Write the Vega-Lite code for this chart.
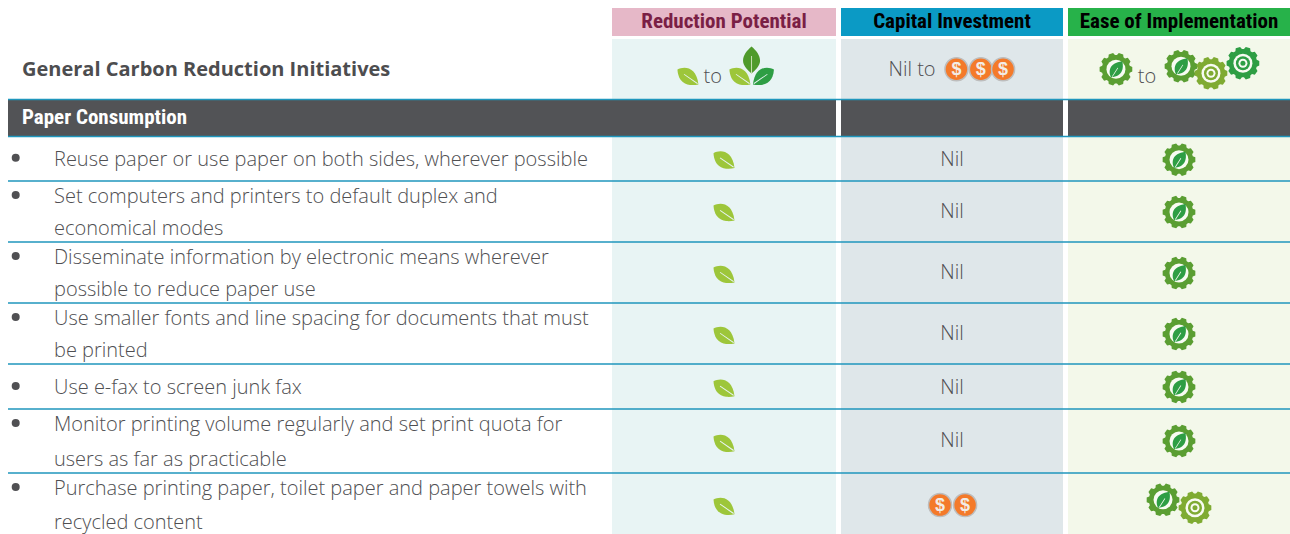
{
"$schema":"https://vega.github.io/schema/vega-lite/v6.json",
"width":1290,"height":534,"padding":0,"autosize":{"type":"none"},"background":"white",
"config":{"view":{"stroke":null}},
"datasets":{
"bands":[
{"kind":"bgA","x":4,"x2":5,"y":2,"y2":11},{"kind":"bgB","x":6,"x2":7,"y":2,"y2":11},{"kind":"bgC","x":8,"x2":9,"y":2,"y2":11},
{"kind":"hdrA","x":4,"x2":5,"y":0,"y2":1},{"kind":"hdrB","x":6,"x2":7,"y":0,"y2":1},{"kind":"hdrC","x":8,"x2":9,"y":0,"y2":1},
{"kind":"dark","x":0,"x2":5,"y":3,"y2":4},{"kind":"dark","x":6,"x2":7,"y":3,"y2":4},{"kind":"dark","x":8,"x2":9,"y":3,"y2":4}],
"lines":[{"x":0,"x2":9,"y":3},{"x":0,"x2":9,"y":4},{"x":0,"x2":9,"y":5},{"x":0,"x2":9,"y":6},{"x":0,"x2":9,"y":7},{"x":0,"x2":9,"y":8},{"x":0,"x2":9,"y":9},{"x":0,"x2":9,"y":10}],
"texts":[
{"style":"hdrA","text":"Reduction Potential","x":4.5,"y":0.5},
{"style":"hdrB","text":"Capital Investment","x":6.5,"y":0.5},
{"style":"hdrB","text":"Ease of Implementation","x":8.5,"y":0.5},
{"style":"title","text":"General Carbon Reduction Initiatives","x":2,"y":2.5},
{"style":"section","text":"Paper Consumption","x":2,"y":3.5},
{"style":"center","text":"to","x":4.45,"y":2.617},
{"style":"center","text":"Nil to","x":6.32,"y":2.5},
{"style":"center","text":"to","x":8.356,"y":2.617},
{"style":"body","text":"Reuse paper or use paper on both sides, wherever possible","x":3,"y":4.5},
{"style":"body","text":"Set computers and printers to default duplex and","x":3,"y":5.246},
{"style":"body","text":"economical modes","x":3,"y":5.77},
{"style":"body","text":"Disseminate information by electronic means wherever","x":3,"y":6.246},
{"style":"body","text":"possible to reduce paper use","x":3,"y":6.77},
{"style":"body","text":"Use smaller fonts and line spacing for documents that must","x":3,"y":7.246},
{"style":"body","text":"be printed","x":3,"y":7.77},
{"style":"body","text":"Use e-fax to screen junk fax","x":3,"y":8.511},
{"style":"body","text":"Monitor printing volume regularly and set print quota for","x":3,"y":9.234},
{"style":"body","text":"users as far as practicable","x":3,"y":9.78},
{"style":"body","text":"Purchase printing paper, toilet paper and paper towels with","x":3,"y":10.246},
{"style":"body","text":"recycled content","x":3,"y":10.803},
{"style":"center","text":"Nil","x":6.5,"y":4.5},
{"style":"center","text":"Nil","x":6.5,"y":5.49},
{"style":"center","text":"Nil","x":6.5,"y":6.49},
{"style":"center","text":"Nil","x":6.5,"y":7.49},
{"style":"center","text":"Nil","x":6.5,"y":8.51},
{"style":"center","text":"Nil","x":6.5,"y":9.48}],
"bullets":[{"x":1.1,"y":4.477},{"x":1.1,"y":5.23},{"x":1.1,"y":6.23},{"x":1.1,"y":7.23},{"x":1.1,"y":8.49},{"x":1.1,"y":9.22},{"x":1.1,"y":10.23}],
"leaves":[
{"x":4.339,"y":2.612},{"x":4.571,"y":2.612},
{"x":4.5,"y":4.52},{"x":4.5,"y":5.51},{"x":4.5,"y":6.525},{"x":4.5,"y":7.525},{"x":4.5,"y":8.53},{"x":4.5,"y":9.53},{"x":4.5,"y":10.54}],
"coins":[{"x":6.52,"y":2.5},{"x":6.63,"y":2.5},{"x":6.73,"y":2.5},{"x":6.446,"y":10.525},{"x":6.559,"y":10.525}],
"gears":[
{"kind":"gearLeaf","x":8.216,"y":2.5},{"kind":"gearLeaf","x":8.509,"y":2.45},{"kind":"gearLight","x":8.644,"y":2.567},{"kind":"gearDark","x":8.788,"y":2.4},
{"kind":"gearLeaf","x":8.5,"y":4.52},{"kind":"gearLeaf","x":8.5,"y":5.51},{"kind":"gearLeaf","x":8.5,"y":6.51},{"kind":"gearLeaf","x":8.5,"y":7.51},{"kind":"gearLeaf","x":8.5,"y":8.51},{"kind":"gearLeaf","x":8.5,"y":9.5},
{"kind":"gearLeaf","x":8.428,"y":10.44},{"kind":"gearLight","x":8.572,"y":10.57}]
},
"encoding":{
"x":{"field":"x","type":"quantitative","axis":null,"scale":{"domain":[0,1,2,3,4,5,6,7,8,9],"range":[8,15,22,54,612,836,841,1063,1068,1290],"nice":false,"zero":false}},
"y":{"field":"y","type":"quantitative","axis":null,"scale":{"domain":[0,1,2,3,4,5,6,7,8,9,10,11],"range":[8,36,39,99.5,136.5,181,242,303,364,409,473,534],"nice":false,"zero":false}}
},
"layer":[
{"data":{"name":"bands"},"mark":{"type":"rect"},"encoding":{"x2":{"field":"x2"},"y2":{"field":"y2"},
"color":{"field":"kind","type":"nominal","legend":null,"scale":{"domain":["bgA","bgB","bgC","hdrA","hdrB","hdrC","dark","gearLeaf","gearLight","gearDark"],"range":["#e8f4f4","#dfe7ea","#f3f8ea","#e6b8c8","#0b9ac5","#27b24a","#525356","#5a9e32","#7fab32","#2e9e44"]}}}},
{"data":{"name":"lines"},"mark":{"type":"rule","color":"#1f96bd","strokeWidth":1.5},"encoding":{"x2":{"field":"x2"}}},
{"data":{"name":"bullets"},"mark":{"type":"point","shape":"circle","filled":true,"opacity":1,"size":64,"color":"#505053"}},
{"data":{"name":"texts"},"transform":[{"filter":"datum.style==='body'"}],"mark":{"type":"text","align":"left","baseline":"middle","dy":1,"font":"Open Sans","fontWeight":300,"fontSize":20,"color":"#4f4f52"},"encoding":{"text":{"field":"text"}}},
{"data":{"name":"texts"},"transform":[{"filter":"datum.style==='center'"}],"mark":{"type":"text","align":"center","baseline":"middle","dy":1,"font":"Open Sans","fontWeight":300,"fontSize":20,"color":"#4f4f52"},"encoding":{"text":{"field":"text"}}},
{"data":{"name":"texts"},"transform":[{"filter":"datum.style==='title'"}],"mark":{"type":"text","align":"left","baseline":"middle","dy":1,"font":"Open Sans","fontWeight":700,"fontSize":20,"color":"#4d4d4f"},"encoding":{"text":{"field":"text"}}},
{"data":{"name":"texts"},"transform":[{"filter":"datum.style==='section'"}],"mark":{"type":"text","align":"left","baseline":"middle","font":"Roboto Condensed, Noto Sans Condensed, DejaVu Sans Condensed, Liberation Sans","fontWeight":700,"fontSize":21,"color":"#ffffff"},"encoding":{"text":{"field":"text"}}},
{"data":{"name":"texts"},"transform":[{"filter":"datum.style==='hdrA'"}],"mark":{"type":"text","align":"center","baseline":"middle","font":"Roboto Condensed, Noto Sans Condensed, DejaVu Sans Condensed, Liberation Sans","fontWeight":700,"fontSize":21,"color":"#7a1f45"},"encoding":{"text":{"field":"text"}}},
{"data":{"name":"texts"},"transform":[{"filter":"datum.style==='hdrB'"}],"mark":{"type":"text","align":"center","baseline":"middle","font":"Roboto Condensed, Noto Sans Condensed, DejaVu Sans Condensed, Liberation Sans","fontWeight":700,"fontSize":21,"color":"#000000"},"encoding":{"text":{"field":"text"}}},
{"data":{"name":"leaves"},"mark":{"type":"point","filled":true,"opacity":1,"size":441,"shape":"M-1,-0.62 C-0.4,-0.95 0.8,-0.95 1,0.8 C0.3,0.95 -0.9,0.95 -1,-0.62 Z","color":"#9dc63a"}},
{"data":{"name":"leaves"},"mark":{"type":"point","filled":true,"opacity":1,"size":441,"shape":"M-0.35,-0.2 L0.95,0.68 L0.88,0.76 L-0.4,-0.14 Z","color":"#e8f4f4"}},
{"data":{"values":[{"x":4.676,"y":2.612}]},"mark":{"type":"point","filled":true,"opacity":1,"size":441,"shape":"M1,-0.62 C0.4,-0.95 -0.8,-0.95 -1,0.8 C-0.3,0.95 0.9,0.95 1,-0.62 Z","color":"#2e9e44"}},
{"data":{"values":[{"x":4.676,"y":2.612}]},"mark":{"type":"point","filled":true,"opacity":1,"size":441,"shape":"M0.35,-0.2 L-0.95,0.68 L-0.88,0.76 L0.4,-0.14 Z","color":"#e8f4f4"}},
{"data":{"values":[{"x":4.623,"y":2.347}]},"mark":{"type":"point","filled":true,"opacity":1,"size":729,"shape":"M0,-1 C0.35,-0.7 0.63,-0.35 0.63,0.05 C0.63,0.45 0.25,0.75 0,1 C-0.25,0.75 -0.63,0.45 -0.63,0.05 C-0.63,-0.35 -0.35,-0.7 0,-1 Z","color":"#4f9a2b"}},
{"data":{"values":[{"x":4.623,"y":2.347}]},"mark":{"type":"point","filled":true,"opacity":1,"size":729,"shape":"M-0.035,-0.3 L0.035,-0.3 L0.035,1 L-0.035,1 Z","color":"#cfe3b8"}},
{"data":{"name":"coins"},"mark":{"type":"point","shape":"circle","filled":true,"opacity":1,"size":529,"color":"#f47a2a","stroke":"#bdbdbd","strokeWidth":1.5}},
{"data":{"name":"coins"},"mark":{"type":"text","text":"$","align":"center","baseline":"middle","dy":1,"font":"Liberation Sans","fontWeight":700,"fontSize":18,"color":"#f2ece6"}},
{"data":{"name":"gears"},"mark":{"type":"point","filled":true,"opacity":1,"size":1089,"shape":"M.99,.139L.834,.209L.798,.323L.883,.469L.719,.695L.553,.659L.456,.729L.438,.899L.174,.985L.06,.858L-.06,.858L-.174,.985L-.438,.899L-.456,.729L-.553,.659L-.719,.695L-.883,.469L-.798,.323L-.834,.209L-.99,.139L-.99,-.139L-.834,-.209L-.798,-.323L-.883,-.469L-.719,-.695L-.553,-.659L-.456,-.729L-.438,-.899L-.174,-.985L-.06,-.858L.06,-.858L.174,-.985L.438,-.899L.456,-.729L.553,-.659L.719,-.695L.883,-.469L.798,-.323L.834,-.209L.99,-.139Z"},"encoding":{"color":{"field":"kind","type":"nominal","legend":null}}},
{"data":{"name":"gears"},"mark":{"type":"point","shape":"circle","filled":true,"opacity":1,"size":361,"color":"#f8fbf2"}},
{"data":{"name":"gears"},"transform":[{"filter":"datum.kind==='gearLeaf'"}],"mark":{"type":"point","filled":true,"opacity":1,"size":256,"angle":270,"shape":"M-1,-0.62 C-0.4,-0.95 0.8,-0.95 1,0.8 C0.3,0.95 -0.9,0.95 -1,-0.62 Z","color":"#2e9e44"}},
{"data":{"name":"gears"},"transform":[{"filter":"datum.kind==='gearLeaf'"}],"mark":{"type":"point","filled":true,"opacity":1,"size":256,"angle":270,"shape":"M-0.9,-0.5 L0.2,0.2 L0.15,0.28 L-0.95,-0.42 Z","color":"#f8fbf2"}},
{"data":{"name":"gears"},"transform":[{"filter":"datum.kind!=='gearLeaf'"}],"mark":{"type":"point","shape":"circle","filled":true,"opacity":1,"size":196},"encoding":{"color":{"field":"kind","type":"nominal","legend":null}}},
{"data":{"name":"gears"},"transform":[{"filter":"datum.kind!=='gearLeaf'"}],"mark":{"type":"point","shape":"circle","filled":true,"opacity":1,"size":81,"color":"#f8fbf2"}},
{"data":{"name":"gears"},"transform":[{"filter":"datum.kind!=='gearLeaf'"}],"mark":{"type":"point","shape":"circle","filled":true,"opacity":1,"size":25},"encoding":{"color":{"field":"kind","type":"nominal","legend":null}}}
]
}
